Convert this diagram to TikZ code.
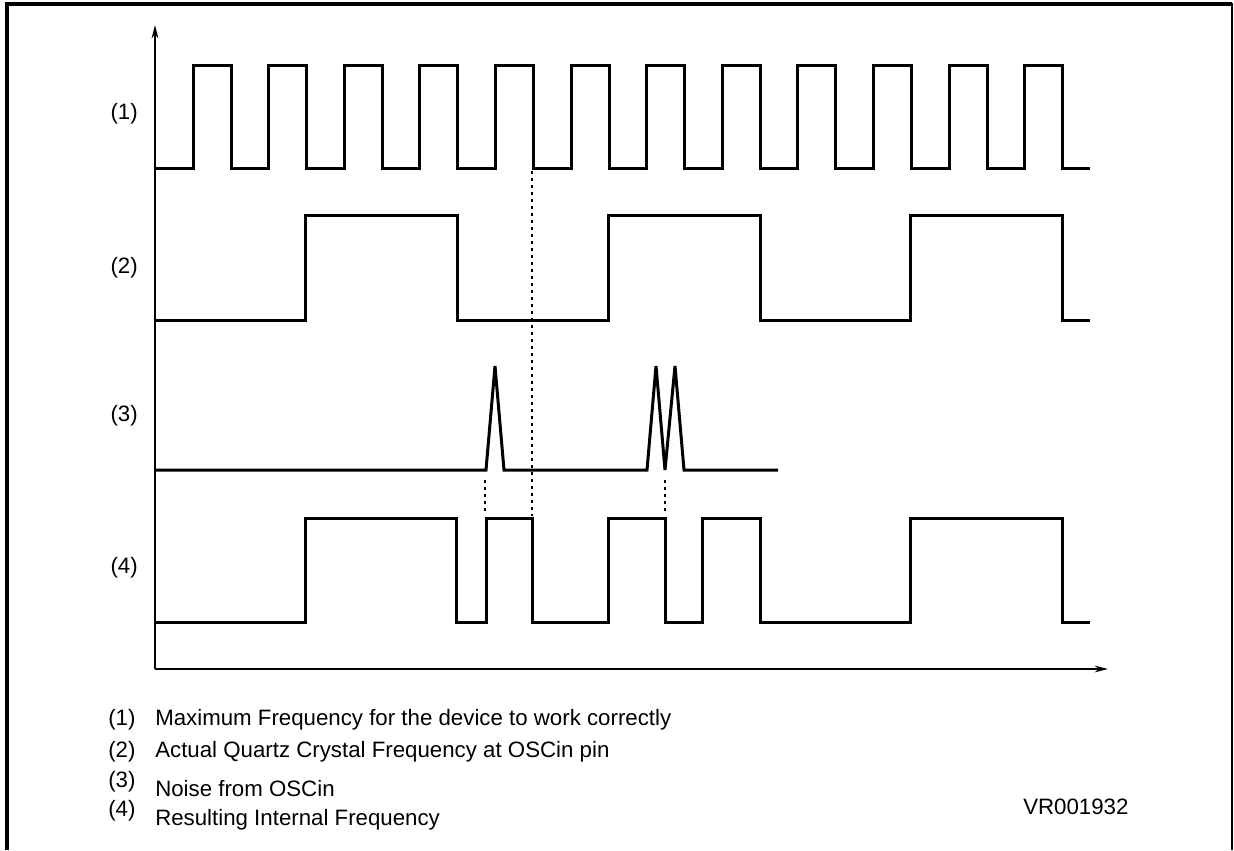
\documentclass[tikz,border=0pt]{standalone}
\usepackage{fontspec}
\setmainfont{Liberation Sans}
\usetikzlibrary{arrows.meta}

\begin{document}
\begin{tikzpicture}[x=0.75pt, y=-0.75pt,
                    wave/.style={line width=2.25pt, line join=miter},
                    axis/.style={line width=1.5pt, -{Stealth[length=10pt, width=5pt]}},
                    guide/.style={line width=2pt, dash pattern=on 2.25pt off 3pt},
                    txt/.style={font=\fontsize{16.7}{20}\selectfont, inner sep=0pt}]

                  \useasboundingbox (0,0) rectangle (1234,850);

                  % frame, open at the bottom
                  \draw[line width=2.6pt] (7,850) -- (7,4) -- (1232,4);
                  \draw[line width=1.5pt] (1232,3) -- (1232,850);

                  % axes
                  \coordinate (orig) at (155,669);
                  \coordinate (ytop) at (155,25);
                  \coordinate (xend) at (1108,669);
                  \draw[axis] (orig) -- (ytop);
                  \draw[axis] (orig) -- (xend);

                  % (1) maximum frequency
                  \draw[wave] (155,168) foreach \k in {0,...,11} {
                        -- ({193+75.6*\k},168) -- ++(0,-103) -- ++(38,0) -- ++(0,103)
                  } -- (1090,168);

                  % (2) quartz frequency
                  \draw[wave] (155,320) -- (305,320) -- (305,215) -- (457,215) -- (457,320)
                        -- (608,320) -- (608,215) -- (760,215) -- (760,320)
                        -- (910,320) -- (910,215) -- (1062,215) -- (1062,320) -- (1090,320);

                  % (3) noise
                  \draw[wave] (155,470) -- (486,470) -- (495,366) -- (504,470)
                        -- (647,470) -- (656,366) -- (665,470) -- (675,366) -- (684,470) -- (778,470);

                  % (4) internal frequency
                  \draw[wave] (155,622) -- (305,622) -- (305,518) -- (456,518) -- (456,622)
                        -- (486,622) -- (486,518) -- (532,518) -- (532,622)
                        -- (608,622) -- (608,518) -- (665,518) -- (665,622)
                        -- (702,622) -- (702,518) -- (760,518) -- (760,622)
                        -- (910,622) -- (910,518) -- (1062,518) -- (1062,622) -- (1090,622);

                  \draw[guide] (532,171) -- (532,516);
                  \draw[guide] (485,480) -- (485,511);
                  \draw[guide] (665,480) -- (665,511);

                  \node[txt, anchor=east] (lab1) at (138,114) {(1)};
                  \node[txt, anchor=east] (lab2) at (138,268) {(2)};
                  \node[txt, anchor=east] (lab3) at (138,416) {(3)};
                  \node[txt, anchor=east] (lab4) at (138,568) {(4)};

                  % legend
                  \node[txt, anchor=base west] (num1) at (108,725) {(1)};
                  \node[txt, anchor=base west] (leg1) at (155,725) {Maximum Frequency for the device to work correctly};
                  \node[txt, anchor=base west] (num2) at (108,757) {(2)};
                  \node[txt, anchor=base west] (leg2) at (155,757) {Actual Quartz Crystal Frequency at OSCin pin};
                  \node[txt, anchor=base west] (num3) at (108,787) {(3)};
                  \node[txt, anchor=base west] (leg3) at (155,796) {Noise from OSCin};
                  \node[txt, anchor=base west] (num4) at (108,816) {(4)};
                  \node[txt, anchor=base west] (leg4) at (155,825) {Resulting Internal Frequency};

                  \node[txt, anchor=base west] (code) at (1023,814) {VR001932};

              \end{tikzpicture}
\end{document}
